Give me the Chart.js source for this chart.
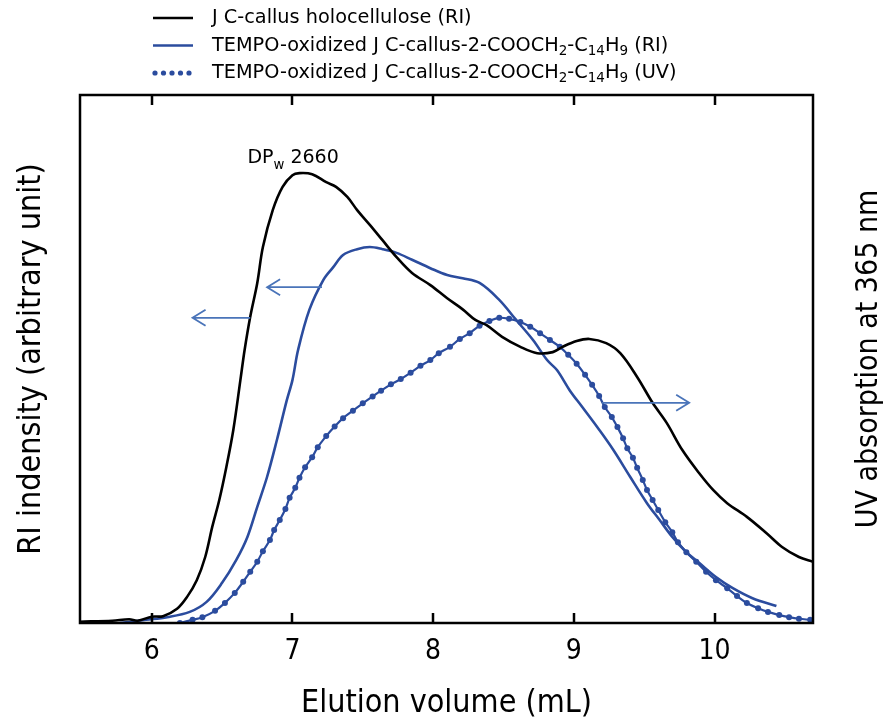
<!DOCTYPE html>
<html>
<head>
<meta charset="utf-8">
<script src="https://cdn.jsdelivr.net/npm/chart.js@4.4.0/dist/chart.umd.min.js"></script>
<style>
  html, body { margin: 0; padding: 0; background: #fff; }
</style>
</head>
<body>
<canvas id="gpcChart" width="891" height="723"></canvas>
<script>
// elution volume (mL) and signal (arbitrary, 0-100)
var holoX = [5.49, 5.72, 5.84, 5.90, 6.00, 6.08, 6.18, 6.25, 6.32, 6.38, 6.43, 6.48, 6.53, 6.58, 6.63, 6.66,
    6.70, 6.75, 6.79, 6.86, 6.93, 7.00, 7.05, 7.14, 7.24, 7.31, 7.39, 7.46, 7.55, 7.64, 7.74, 7.85, 7.98,
    8.10, 8.21, 8.30, 8.38, 8.49, 8.62, 8.74, 8.85, 8.92, 9.02, 9.11, 9.23, 9.33, 9.45, 9.56, 9.66, 9.77,
    9.89, 9.99, 10.09, 10.23, 10.37, 10.48, 10.60, 10.70];
var holoY = [0.25, 0.44, 0.70, 0.44, 1.2, 1.3, 2.7, 4.9, 8.1, 12.5, 18.2, 23.3, 29.5, 36.6, 46.0, 51.7,
    58.0, 64.4, 71.2, 78.2, 82.6, 84.8, 85.2, 85.0, 83.5, 82.6, 80.7, 78.2, 75.4, 72.5, 69.3, 66.3, 64.0,
    61.5, 59.4, 57.4, 56.4, 54.2, 52.3, 51.1, 51.3, 52.3, 53.4, 53.8, 53.0, 51.1, 46.6, 41.7, 37.9, 32.8,
    28.4, 25.2, 22.7, 20.1, 17.0, 14.4, 12.5, 11.6];

var riX = [5.77, 5.96, 6.11, 6.27, 6.39, 6.50, 6.60, 6.68, 6.75, 6.82, 6.89, 6.96, 7.00, 7.04, 7.12, 7.22,
    7.29, 7.36, 7.46, 7.55, 7.64, 7.74, 7.85, 7.98, 8.10, 8.21, 8.33, 8.47, 8.59, 8.71, 8.81, 8.88, 8.97,
    9.06, 9.18, 9.28, 9.40, 9.52, 9.61, 9.70, 9.80, 9.89, 10.01, 10.13, 10.27, 10.44];
var riY = [0, 0.6, 1.1, 2.1, 4.0, 7.6, 11.9, 16.3, 22.0, 27.7, 34.7, 42.2, 46.0, 51.7, 59.3, 65.0,
    67.4, 69.7, 70.8, 71.2, 70.8, 70.1, 68.8, 67.2, 65.9, 65.3, 64.4, 61.2, 57.4, 53.6, 49.8, 47.9, 44.1,
    40.9, 36.6, 32.8, 27.7, 22.7, 19.5, 16.3, 13.4, 11.4, 8.7, 6.6, 4.7, 3.2];

var uvX = [6.20, 6.29, 6.36, 6.45, 6.52, 6.59, 6.65, 6.70, 6.75, 6.79, 6.84, 6.87, 6.91, 6.95, 6.98, 7.02,
    7.05, 7.09, 7.14, 7.18, 7.24, 7.30, 7.36, 7.43, 7.50, 7.57, 7.63, 7.70, 7.77, 7.84, 7.91, 7.98, 8.04,
    8.12, 8.19, 8.26, 8.33, 8.40, 8.47, 8.54, 8.62, 8.69, 8.76, 8.83, 8.90, 8.96, 9.02, 9.08, 9.13, 9.18,
    9.22, 9.27, 9.31, 9.35, 9.38, 9.42, 9.45, 9.49, 9.52, 9.56, 9.60, 9.65, 9.70, 9.74, 9.80, 9.87, 9.94,
    10.01, 10.09, 10.16, 10.23, 10.31, 10.38, 10.46, 10.53, 10.60, 10.68];
var uvY = [0, 0.6, 1.1, 2.3, 3.8, 5.7, 7.8, 9.7, 11.6, 13.6, 15.7, 17.6, 19.5, 21.6, 23.7, 25.6,
    27.5, 29.5, 31.4, 33.3, 35.4, 37.2, 38.8, 40.2, 41.6, 42.9, 44.0, 45.2, 46.2, 47.4, 48.7, 49.8, 51.1,
    52.3, 53.8, 54.9, 56.3, 57.2, 57.8, 57.6, 57.0, 56.1, 54.9, 53.6, 52.3, 50.8, 49.1, 47.0, 45.1, 43.0,
    40.9, 39.0, 37.1, 35.0, 33.1, 31.3, 29.4, 27.1, 25.2, 23.3, 21.4, 19.1, 17.2, 15.3, 13.4, 11.6, 9.7,
    8.1, 6.6, 5.1, 3.8, 2.8, 2.1, 1.5, 1.1, 0.8, 0.6];

var xTicks = [6, 7, 8, 9, 10];

var BLUE = '#2b4c9e';
var ARROW = '#4a74b9';
var condensed = '"DejaVu Sans Condensed", "DejaVu Sans", sans-serif';
var plain = '"DejaVu Sans", sans-serif';

function pairs(xs, ys) {
    return xs.map(function (x, i) { return { x: x, y: ys[i] }; });
}

// text with subscript parts: [[text, isSub], ...]
function richText(ctx, parts, x, y, size) {
    parts.forEach(function (p) {
        var s = p[1] ? size * 0.7 : size;
        ctx.font = s + 'px ' + plain;
        ctx.fillText(p[0], x, p[1] ? y + size * 0.3 : y);
        x += ctx.measureText(p[0]).width;
    });
}

function arrow(ctx, x1, x2, y) {
    var dir = x2 < x1 ? 1 : -1;
    ctx.beginPath();
    ctx.moveTo(x1, y);
    ctx.lineTo(x2, y);
    ctx.moveTo(x2 + dir * 13, y - 8);
    ctx.lineTo(x2, y);
    ctx.lineTo(x2 + dir * 13, y + 8);
    ctx.stroke();
}

var legendRows = [
    { kind: 'solid', color: '#000', parts: [['J C-callus holocellulose (RI)', false]] },
    { kind: 'solid', color: BLUE, parts: [['TEMPO-oxidized J C-callus-2-COOCH', false], ['2', true], ['-C', false], ['14', true], ['H', false], ['9', true], [' (RI)', false]] },
    { kind: 'dots', color: BLUE, parts: [['TEMPO-oxidized J C-callus-2-COOCH', false], ['2', true], ['-C', false], ['14', true], ['H', false], ['9', true], [' (UV)', false]] }
];

var extras = {
    id: 'extras',
    afterDraw: function (chart) {
        var ctx = chart.ctx, a = chart.chartArea;
        var xs = chart.scales.x, ys = chart.scales.y;
        ctx.save();

        // frame with inward ticks
        ctx.strokeStyle = '#000';
        ctx.lineWidth = 2.5;
        ctx.strokeRect(a.left, a.top, a.right - a.left, a.bottom - a.top);
        ctx.beginPath();
        xTicks.forEach(function (v) {
            var px = Math.round(xs.getPixelForValue(v));
            ctx.moveTo(px, a.bottom);
            ctx.lineTo(px, a.bottom - 10);
            ctx.moveTo(px, a.top);
            ctx.lineTo(px, a.top + 10);
        });
        ctx.stroke();

        // arrows pointing to the axis each curve belongs to
        ctx.strokeStyle = ARROW;
        ctx.lineWidth = 1.8;
        arrow(ctx, xs.getPixelForValue(6.70), xs.getPixelForValue(6.29), ys.getPixelForValue(57.8));
        arrow(ctx, xs.getPixelForValue(7.21), xs.getPixelForValue(6.82), ys.getPixelForValue(63.6));
        arrow(ctx, xs.getPixelForValue(9.20), xs.getPixelForValue(9.82), ys.getPixelForValue(41.7));

        // DPw label
        ctx.fillStyle = '#000';
        ctx.textBaseline = 'alphabetic';
        ctx.textAlign = 'left';
        richText(ctx, [['DP', false], ['w', true], [' 2660', false]],
            xs.getPixelForValue(6.68), ys.getPixelForValue(87.1), 19);

        // legend
        legendRows.forEach(function (row, i) {
            var y = 18 + i * 27.5;
            ctx.strokeStyle = row.color;
            ctx.fillStyle = row.color;
            if (row.kind === 'solid') {
                ctx.lineWidth = 2.5;
                ctx.beginPath();
                ctx.moveTo(153, y);
                ctx.lineTo(193, y);
                ctx.stroke();
            } else {
                for (var k = 0; k < 5; k++) {
                    ctx.beginPath();
                    ctx.arc(155 + k * 8.5, y, 2.6, 0, Math.PI * 2);
                    ctx.fill();
                }
            }
            ctx.fillStyle = '#000';
            ctx.textBaseline = 'middle';
            richText(ctx, row.parts, 212, y, 19.3);
        });

        // right axis title, reading bottom to top
        ctx.translate(869, (a.top + a.bottom) / 2);
        ctx.rotate(-Math.PI / 2);
        ctx.font = '30px ' + condensed;
        ctx.textAlign = 'center';
        ctx.textBaseline = 'middle';
        ctx.fillStyle = '#000';
        ctx.fillText('UV absorption at 365 nm', 0, 0);
        ctx.restore();
    }
};

var ctx = document.getElementById('gpcChart').getContext('2d');
new Chart(ctx, {
    type: 'line',
    data: {
        datasets: [{
            label: 'J C-callus holocellulose (RI)',
            data: pairs(holoX, holoY),
            borderColor: '#000',
            borderWidth: 2.6,
            pointRadius: 0,
            tension: 0.35,
            yAxisID: 'y'
        }, {
            label: 'TEMPO-oxidized J C-callus-2-COOCH2-C14H9 (RI)',
            data: pairs(riX, riY),
            borderColor: BLUE,
            borderWidth: 2.6,
            pointRadius: 0,
            tension: 0.35,
            yAxisID: 'y'
        }, {
            label: 'TEMPO-oxidized J C-callus-2-COOCH2-C14H9 (UV)',
            data: pairs(uvX, uvY),
            borderColor: BLUE,
            borderWidth: 2.2,
            pointRadius: 3,
            pointBorderWidth: 0,
            pointBackgroundColor: BLUE,
            tension: 0.35,
            yAxisID: 'y2'
        }]
    },
    options: {
        responsive: false,
        animation: false,
        layout: { padding: { left: 0, right: 78, top: 95, bottom: 0 } },
        plugins: { legend: { display: false }, tooltip: { enabled: false } },
        scales: {
            x: {
                type: 'linear',
                min: 5.49,
                max: 10.70,
                afterBuildTicks: function (s) { s.ticks = xTicks.map(function (v) { return { value: v }; }); },
                afterFit: function (s) { s.height = 100; },
                grid: { display: false, drawTicks: false },
                border: { display: false },
                ticks: { color: '#000', padding: 12, maxRotation: 0, font: { family: condensed, size: 28 } },
                title: {
                    display: true,
                    text: 'Elution volume (mL)',
                    color: '#000',
                    padding: { top: 0, bottom: 0 },
                    font: { family: condensed, size: 32 }
                }
            },
            y: {
                min: 0,
                max: 100,
                position: 'left',
                afterFit: function (s) { s.width = 80; },
                grid: { display: false, drawTicks: false },
                border: { display: false },
                ticks: { display: false },
                title: {
                    display: true,
                    text: 'RI indensity (arbitrary unit)',
                    color: '#000',
                    padding: { top: 12, bottom: 0 },
                    font: { family: condensed, size: 32 }
                }
            },
            y2: { min: 0, max: 100, position: 'right', display: false }
        }
    },
    plugins: [extras]
});
</script>
</body>
</html>
